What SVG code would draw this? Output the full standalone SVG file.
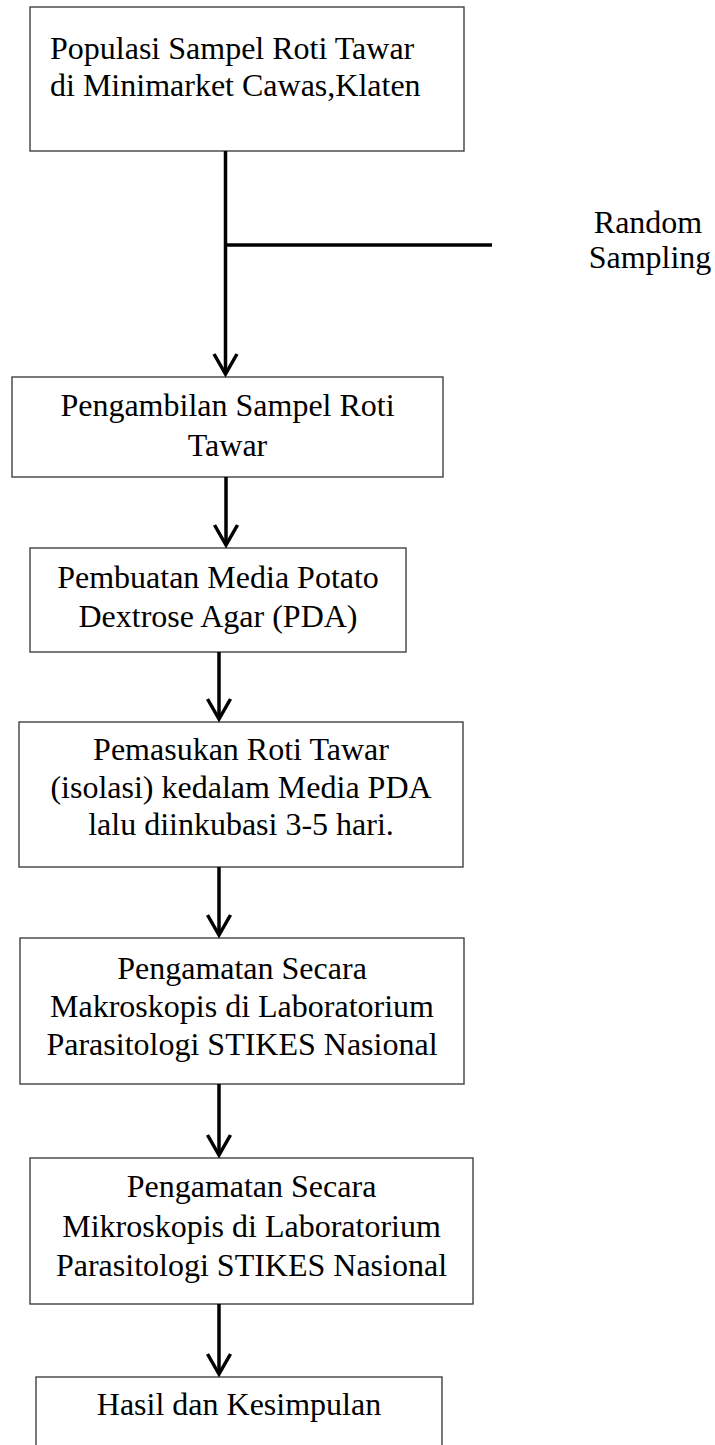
<svg xmlns="http://www.w3.org/2000/svg" width="715" height="1445" viewBox="0 0 715 1445">
<defs>
<style>
.box{fill:#fff;stroke:#404040;stroke-width:1.4}
.t{font-family:"Liberation Serif","Times New Roman",serif;font-size:32px;fill:#000}
.c{text-anchor:middle}
.ln{stroke:#000;stroke-width:3.5;fill:none}
.hd{stroke:#000;stroke-width:3.5;fill:none;stroke-linejoin:miter}
</style>
</defs>
<rect width="715" height="1445" fill="#fff"/>
<g id="n1">
<rect class="box" x="30" y="7" width="434" height="144"/>
<text class="t" x="50" y="59">Populasi Sampel Roti Tawar</text>
<text class="t" x="50" y="96">di Minimarket Cawas,Klaten</text>
</g>
<g id="n2">
<rect class="box" x="12" y="377" width="431" height="100"/>
<text class="t c" x="227.5" y="416">Pengambilan Sampel Roti</text>
<text class="t c" x="227.5" y="456">Tawar</text>
</g>
<g id="n3">
<rect class="box" x="30" y="548" width="376" height="104"/>
<text class="t c" x="218" y="588">Pembuatan Media Potato</text>
<text class="t c" x="218" y="627">Dextrose Agar (PDA)</text>
</g>
<g id="n4">
<rect class="box" x="19" y="722" width="444" height="145"/>
<text class="t c" x="241" y="760">Pemasukan Roti Tawar</text>
<text class="t c" x="241" y="798">(isolasi) kedalam Media PDA</text>
<text class="t c" x="241" y="835">lalu diinkubasi 3-5 hari.</text>
</g>
<g id="n5">
<rect class="box" x="20" y="938" width="444" height="146"/>
<text class="t c" x="242" y="979">Pengamatan Secara</text>
<text class="t c" x="242" y="1017">Makroskopis di Laboratorium</text>
<text class="t c" x="242" y="1055">Parasitologi STIKES Nasional</text>
</g>
<g id="n6">
<rect class="box" x="30" y="1158" width="443" height="146"/>
<text class="t c" x="251.5" y="1197">Pengamatan Secara</text>
<text class="t c" x="251.5" y="1237">Mikroskopis di Laboratorium</text>
<text class="t c" x="251.5" y="1276">Parasitologi STIKES Nasional</text>
</g>
<g id="n7">
<rect class="box" x="36" y="1377" width="406" height="90"/>
<text class="t c" x="239" y="1415">Hasil dan Kesimpulan</text>
</g>
<g id="label">
<text class="t c" x="648" y="233">Random</text>
<text class="t c" x="650" y="268">Sampling</text>
</g>
<g id="connectors">
<line class="ln" x1="225.5" y1="151" x2="225.5" y2="374"/>
<line class="ln" x1="225.5" y1="245" x2="492" y2="245"/>
<polyline class="hd" points="214,354 225.5,374 237,354"/>
<line class="ln" x1="226" y1="477" x2="226" y2="545"/>
<polyline class="hd" points="214.5,525 226,545 237.5,525"/>
<line class="ln" x1="219" y1="652" x2="219" y2="719"/>
<polyline class="hd" points="207.5,699 219,719 230.5,699"/>
<line class="ln" x1="219" y1="867" x2="219" y2="935"/>
<polyline class="hd" points="207.5,915 219,935 230.5,915"/>
<line class="ln" x1="219" y1="1084" x2="219" y2="1155"/>
<polyline class="hd" points="207.5,1135 219,1155 230.5,1135"/>
<line class="ln" x1="219" y1="1304" x2="219" y2="1374"/>
<polyline class="hd" points="207.5,1354 219,1374 230.5,1354"/>
</g>
</svg>
